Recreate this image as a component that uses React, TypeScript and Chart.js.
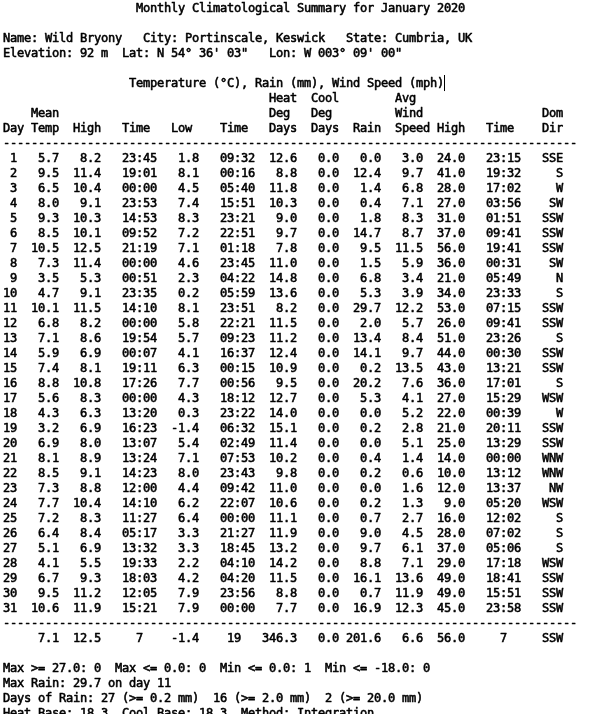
import React, { useEffect, useRef } from "react";
import { Chart, registerables } from "chart.js";

Chart.register(...registerables);

// ---------- report text ----------
const titleText = "Monthly Climatological Summary for January 2020";
const nameLine = "Name: Wild Bryony   City: Portinscale, Keswick   State: Cumbria, UK";
const elevLine = "Elevation: 92 m  Lat: N 54\u00b0 36' 03\"   Lon: W 003\u00b0 09' 00\"";
const unitsLine = "Temperature (\u00b0C), Rain (mm), Wind Speed (mph)";
const headerRow1 = ["", "", "", "", "", "", "Heat", "Cool", "", "Avg", "", "", ""];
const headerRow2 = ["", "Mean", "", "", "", "", "Deg", "Deg", "", "Wind", "", "", "Dom"];
const headerRow3 = ["Day", "Temp", "High", "Time", "Low", "Time", "Days", "Days", "Rain", "Speed", "High", "Time", "Dir"];

// ---------- daily data ----------
const days = [1, 2, 3, 4, 5, 6, 7, 8, 9, 10, 11, 12, 13, 14, 15, 16, 17, 18, 19, 20, 21, 22, 23, 24, 25, 26, 27, 28, 29, 30, 31];
const meanTemp = [5.7, 9.5, 6.5, 8.0, 9.3, 8.5, 10.5, 7.3, 3.5, 4.7, 10.1, 6.8, 7.1, 5.9, 7.4, 8.8, 5.6, 4.3, 3.2, 6.9, 8.1, 8.5, 7.3, 7.7, 7.2, 6.4, 5.1, 4.1, 6.7, 9.5, 10.6];
const highTemp = [8.2, 11.4, 10.4, 9.1, 10.3, 10.1, 12.5, 11.4, 5.3, 9.1, 11.5, 8.2, 8.6, 6.9, 8.1, 10.8, 8.3, 6.3, 6.9, 8.0, 8.9, 9.1, 8.8, 10.4, 8.3, 8.4, 6.9, 5.5, 9.3, 11.2, 11.9];
const highTime = ["23:45", "19:01", "00:00", "23:53", "14:53", "09:52", "21:19", "00:00", "00:51", "23:35", "14:10", "00:00", "19:54", "00:07", "19:11", "17:26", "00:00", "13:20", "16:23", "13:07", "13:24", "14:23", "12:00", "14:10", "11:27", "05:17", "13:32", "19:33", "18:03", "12:05", "15:21"];
const lowTemp = [1.8, 8.1, 4.5, 7.4, 8.3, 7.2, 7.1, 4.6, 2.3, 0.2, 8.1, 5.8, 5.7, 4.1, 6.3, 7.7, 4.3, 0.3, -1.4, 5.4, 7.1, 8.0, 4.4, 6.2, 6.4, 3.3, 3.3, 2.2, 4.2, 7.9, 7.9];
const lowTime = ["09:32", "00:16", "05:40", "15:51", "23:21", "22:51", "01:18", "23:45", "04:22", "05:59", "23:51", "22:21", "09:23", "16:37", "00:15", "00:56", "18:12", "23:22", "06:32", "02:49", "07:53", "23:43", "09:42", "22:07", "00:00", "21:27", "18:45", "04:10", "04:20", "23:56", "00:00"];
const heatDegDays = [12.6, 8.8, 11.8, 10.3, 9.0, 9.7, 7.8, 11.0, 14.8, 13.6, 8.2, 11.5, 11.2, 12.4, 10.9, 9.5, 12.7, 14.0, 15.1, 11.4, 10.2, 9.8, 11.0, 10.6, 11.1, 11.9, 13.2, 14.2, 11.5, 8.8, 7.7];
const coolDegDays = [0.0, 0.0, 0.0, 0.0, 0.0, 0.0, 0.0, 0.0, 0.0, 0.0, 0.0, 0.0, 0.0, 0.0, 0.0, 0.0, 0.0, 0.0, 0.0, 0.0, 0.0, 0.0, 0.0, 0.0, 0.0, 0.0, 0.0, 0.0, 0.0, 0.0, 0.0];
const rain = [0.0, 12.4, 1.4, 0.4, 1.8, 14.7, 9.5, 1.5, 6.8, 5.3, 29.7, 2.0, 13.4, 14.1, 0.2, 20.2, 5.3, 0.0, 0.2, 0.0, 0.4, 0.2, 0.0, 0.2, 0.7, 9.0, 9.7, 8.8, 16.1, 0.7, 16.9];
const avgWind = [3.0, 9.7, 6.8, 7.1, 8.3, 8.7, 11.5, 5.9, 3.4, 3.9, 12.2, 5.7, 8.4, 9.7, 13.5, 7.6, 4.1, 5.2, 2.8, 5.1, 1.4, 0.6, 1.6, 1.3, 2.7, 4.5, 6.1, 7.1, 13.6, 11.9, 12.3];
const highWind = [24.0, 41.0, 28.0, 27.0, 31.0, 37.0, 56.0, 36.0, 21.0, 34.0, 53.0, 26.0, 51.0, 44.0, 43.0, 36.0, 27.0, 22.0, 21.0, 25.0, 14.0, 10.0, 12.0, 9.0, 16.0, 28.0, 37.0, 29.0, 49.0, 49.0, 45.0];
const highWindTime = ["23:15", "19:32", "17:02", "03:56", "01:51", "09:41", "19:41", "00:31", "05:49", "23:33", "07:15", "09:41", "23:26", "00:30", "13:21", "17:01", "15:29", "00:39", "20:11", "13:29", "00:00", "13:12", "13:37", "05:20", "12:02", "07:02", "05:06", "17:18", "18:41", "15:51", "23:58"];
const domDir = ["SSE", "S", "W", "SW", "SSW", "SSW", "SSW", "SW", "N", "S", "SSW", "SSW", "S", "SSW", "SSW", "S", "WSW", "W", "SSW", "SSW", "WNW", "WNW", "NW", "WSW", "S", "S", "S", "WSW", "SSW", "SSW", "SSW"];

// ---------- monthly summary ----------
const summaryValues = ["7.1", "12.5", "7", "-1.4", "19", "346.3", "0.0", "201.6", "6.6", "56.0", "7", "SSW"];
const footerLines = [
  "Max >= 27.0: 0  Max <= 0.0: 0  Min <= 0.0: 1  Min <= -18.0: 0",
  "Max Rain: 29.7 on day 11",
  "Days of Rain: 27 (>= 0.2 mm)  16 (>= 2.0 mm)  2 (>= 20.0 mm)",
  "Heat Base: 18.3  Cool Base: 18.3  Method: Integration",
];

// ---------- layout (character columns) ----------
const LINE_WIDTH = 82;
const headerStarts = [0, 4, 10, 17, 24, 31, 38, 44, 50, 56, 62, 69, 77];
const rowEnds = [2, 8, 14, 22, 28, 36, 42, 48, 54, 60, 66, 74, 80];
const summaryEnds = [8, 14, 20, 28, 34, 42, 48, 54, 60, 66, 72, 80];

function blank(): string[] {
  return new Array(LINE_WIDTH).fill(" ");
}
function putLeft(buf: string[], s: string, start: number) {
  const chars = Array.from(s);
  chars.forEach((c, i) => (buf[start + i] = c));
}
function putRight(buf: string[], s: string, end: number) {
  const chars = Array.from(s);
  putLeft(buf, s, end - chars.length);
}
function lineFrom(s: string, start = 0): string[] {
  const b = blank();
  putLeft(b, s, start);
  return b;
}
function headerLine(labels: string[]): string[] {
  const b = blank();
  labels.forEach((l, i) => l && putLeft(b, l, headerStarts[i]));
  return b;
}

function buildReport(): string[][] {
  const lines: string[][] = [];
  lines.push(lineFrom(titleText, 19));
  lines.push(blank());
  lines.push(lineFrom(nameLine));
  lines.push(lineFrom(elevLine));
  lines.push(blank());
  lines.push(lineFrom(unitsLine, 18));
  lines.push(headerLine(headerRow1));
  lines.push(headerLine(headerRow2));
  lines.push(headerLine(headerRow3));
  lines.push(new Array(LINE_WIDTH).fill("-"));
  days.forEach((d, i) => {
    const vals = [
      String(d),
      meanTemp[i].toFixed(1),
      highTemp[i].toFixed(1),
      highTime[i],
      lowTemp[i].toFixed(1),
      lowTime[i],
      heatDegDays[i].toFixed(1),
      coolDegDays[i].toFixed(1),
      rain[i].toFixed(1),
      avgWind[i].toFixed(1),
      highWind[i].toFixed(1),
      highWindTime[i],
      domDir[i],
    ];
    const b = blank();
    vals.forEach((v, k) => putRight(b, v, rowEnds[k]));
    lines.push(b);
  });
  lines.push(new Array(LINE_WIDTH).fill("-"));
  const s = blank();
  summaryValues.forEach((v, k) => putRight(s, v, summaryEnds[k]));
  lines.push(s);
  lines.push(blank());
  footerLines.forEach((f) => lines.push(lineFrom(f)));
  return lines;
}

const CARET_LINE = 5;
const CARET_COL = 18 + Array.from(unitsLine).length;

const reportPlugin = {
  id: "reportText",
  afterDraw(chart: any) {
    const { ctx, scales } = chart;
    const xs = scales.x;
    const ys = scales.y;
    const lines = buildReport();
    ctx.save();
    ctx.fillStyle = "#000";
    ctx.strokeStyle = "#000";
    ctx.lineWidth = 0.55;
    ctx.lineJoin = "round";
    ctx.font = "12px 'DejaVu Sans Mono'";
    ctx.textAlign = "center";
    ctx.textBaseline = "alphabetic";
    lines.forEach((chars, li) => {
      const y = ys.getPixelForValue(li);
      chars.forEach((c, ci) => {
        if (c !== " ") {
          const x = xs.getPixelForValue(ci + 0.5);
          ctx.fillText(c, x, y);
          ctx.strokeText(c, x, y);
        }
      });
    });
    // text cursor after the units caption
    const cx = Math.round(xs.getPixelForValue(CARET_COL)) + 0.5;
    ctx.lineWidth = 1;
    ctx.beginPath();
    ctx.moveTo(cx, ys.getPixelForValue(CARET_LINE - 0.8));
    ctx.lineTo(cx, ys.getPixelForValue(CARET_LINE + 0.27));
    ctx.stroke();
    ctx.restore();
  },
};

export default function App() {
  const ref = useRef<HTMLCanvasElement | null>(null);
  useEffect(() => {
    if (!ref.current) return;
    const chart = new Chart(ref.current, {
      type: "scatter",
      data: { datasets: [] },
      options: {
        animation: false,
        responsive: false,
        layout: { padding: 0 },
        plugins: { legend: { display: false }, tooltip: { enabled: false } },
        scales: {
          x: { type: "linear", display: false, min: -3 / 7, max: 602 / 7 - 3 / 7 },
          y: { type: "linear", display: false, reverse: true, min: -0.8, max: 714 / 15 - 0.8 },
        },
      },
      plugins: [reportPlugin],
    });
    return () => chart.destroy();
  }, []);
  return (
    <div style={{ position: "fixed", left: 0, top: 0, width: 602, height: 714, background: "#fff" }}>
      <canvas ref={ref} width={602} height={714} style={{ width: 602, height: 714, display: "block" }} />
    </div>
  );
}
